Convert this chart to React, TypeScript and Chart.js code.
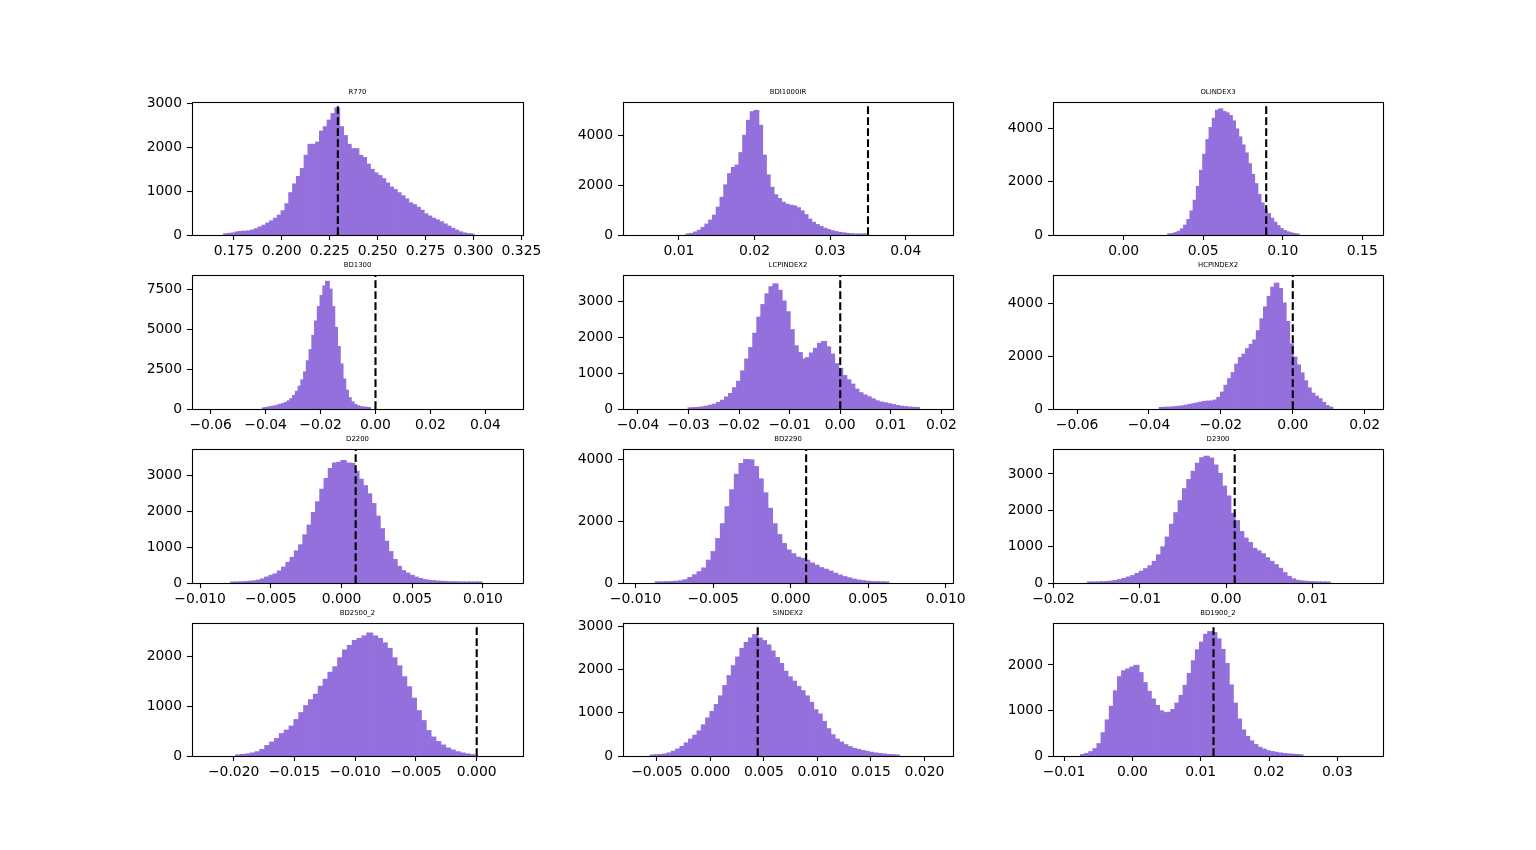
import React, { useEffect, useRef } from "react";
import { Chart, registerables } from "chart.js";

Chart.register(...registerables);
Chart.defaults.font.family = "'DejaVu Sans', sans-serif";
Chart.defaults.color = "#000";

const M = "\u2212";

// ---------------- R770 ----------------
const r770Title = "R770";
const r770BinStart = 0.17;
const r770BinWidth = 0.002;
const r770Counts = [
  15, 25, 35, 60, 70, 75, 80, 100, 130, 170, 210, 260, 310, 370, 440, 540, 700, 950, 1150, 1320,
  1500, 1800, 2050, 2050, 2100, 2350, 2450, 2600, 2750, 2880, 2450, 2250, 2050, 1950, 1950, 1800,
  1750, 1600, 1480, 1400, 1340, 1270, 1170, 1080, 1020, 950, 880, 810, 720, 680, 620, 550, 470,
  420, 370, 330, 290, 240, 190, 140, 100, 60, 35, 20, 10,
];
const r770XTicks = ["0.175", "0.200", "0.225", "0.250", "0.275", "0.300", "0.325"];
const r770YTicks = ["0", "1000", "2000", "3000"];
const r770XRange = [0.1533, 0.3258];
const r770YMax = 3025;
const r770Marker = 0.2293;

// ---------------- BDI1000IR ----------------
const bdi1000irTitle = "BDI1000IR";
const bdi1000irBinStart = 0.011;
const bdi1000irBinWidth = 0.0005;
const bdi1000irCounts = [
  15, 45, 100, 170, 280, 420, 580, 780, 1100, 1500, 2000, 2450, 2700, 2800, 3300, 4000, 4600,
  4950, 5000, 4400, 3200, 2400, 1900, 1600, 1450, 1300, 1220, 1180, 1150, 1080, 950, 800, 620,
  490, 400, 320, 250, 200, 150, 115, 85, 65, 45, 30, 20, 15, 10, 6,
];
const bdi1000irXTicks = ["0.01", "0.02", "0.03", "0.04"];
const bdi1000irYTicks = ["0", "2000", "4000"];
const bdi1000irXRange = [0.00261, 0.04624];
const bdi1000irYMax = 5360;
const bdi1000irMarker = 0.035;

// ---------------- OLINDEX3 ----------------
const olindex3Title = "OLINDEX3";
const olindex3BinStart = 0.028;
const olindex3BinWidth = 0.002;
const olindex3Counts = [
  25, 35, 70, 120, 210, 350, 560, 880, 1280, 1800, 2400, 3000, 3550, 4000, 4350, 4650, 4700,
  4600, 4550, 4450, 4250, 3950, 3650, 3350, 3050, 2650, 2250, 1900, 1500, 1180, 950, 780, 610,
  460, 330, 220, 150, 100, 65, 40, 20,
];
const olindex3XTicks = ["0.00", "0.05", "0.10", "0.15"];
const olindex3YTicks = ["0", "2000", "4000"];
const olindex3XRange = [-0.0444, 0.163];
const olindex3YMax = 4975;
const olindex3Marker = 0.0896;

// ---------------- BD1300 ----------------
const bd1300Title = "BD1300";
const bd1300BinStart = -0.041;
const bd1300BinWidth = 0.001;
const bd1300Counts = [
  40, 70, 100, 130, 160, 210, 260, 310, 380, 480, 620, 820, 1080, 1400, 1800, 2300, 3000, 3700,
  4600, 5500, 6400, 7100, 7700, 8000, 7500, 6400, 5100, 3900, 2800, 1850, 1150, 680, 420, 260,
  170, 120, 95, 75, 60,
];
const bd1300XTicks = [M + "0.06", M + "0.04", M + "0.02", "0.00", "0.02", "0.04"];
const bd1300YTicks = ["0", "2500", "5000", "7500"];
const bd1300XRange = [-0.0668, 0.0537];
const bd1300YMax = 8420;
const bd1300Marker = 0.0;

// ---------------- LCPINDEX2 ----------------
const lcpindex2Title = "LCPINDEX2";
const lcpindex2BinStart = -0.03;
const lcpindex2BinWidth = 0.0008;
const lcpindex2Counts = [
  20, 25, 30, 45, 65, 90, 120, 170, 230, 320, 420, 580, 760, 1050, 1380, 1700, 2100, 2550, 2900,
  3200, 3400, 3480, 3300, 3000, 2700, 2200, 1750, 1560, 1380, 1420, 1550, 1680, 1820, 1870, 1720,
  1520, 1250, 1120, 920, 800, 680, 540, 440, 380, 330, 270, 215, 180, 160, 135, 110, 85, 65, 50,
  40, 32, 28,
];
const lcpindex2XTicks = [M + "0.04", M + "0.03", M + "0.02", M + "0.01", "0.00", "0.01", "0.02"];
const lcpindex2YTicks = ["0", "1000", "2000", "3000"];
const lcpindex2XRange = [-0.04296, 0.0223];
const lcpindex2YMax = 3740;
const lcpindex2Marker = 0.0;

// ---------------- HCPINDEX2 ----------------
const hcpindex2Title = "HCPINDEX2";
const hcpindex2BinStart = -0.037;
const hcpindex2BinWidth = 0.001;
const hcpindex2Counts = [
  40, 45, 50, 55, 70, 85, 100, 125, 155, 180, 210, 240, 270, 280, 285, 320, 420, 620, 880, 1130,
  1360, 1680, 1930, 2060, 2270, 2430, 2600, 2950, 3400, 3850, 4250, 4600, 4750, 4550, 4000, 3300,
  2450, 1950, 1650, 1350, 1050, 780, 580, 470, 370, 230, 110, 50,
];
const hcpindex2XTicks = [M + "0.06", M + "0.04", M + "0.02", "0.00", "0.02"];
const hcpindex2YTicks = ["0", "2000", "4000"];
const hcpindex2XRange = [-0.0667, 0.0251];
const hcpindex2YMax = 5080;
const hcpindex2Marker = 0.0;

// ---------------- D2200 ----------------
const d2200Title = "D2200";
const d2200BinStart = -0.0078;
const d2200BinWidth = 0.0003;
const d2200Counts = [
  8, 12, 18, 25, 35, 45, 65, 100, 150, 200, 240, 320, 430, 560, 700, 880, 1050, 1330, 1600, 1950,
  2250, 2600, 2900, 3180, 3330, 3350, 3400, 3330, 3320, 3100, 2880, 2700, 2470, 2200, 1850, 1500,
  1150, 860, 640, 450, 330, 260, 200, 150, 110, 80, 62, 50, 40, 33, 27, 22, 19, 16, 14, 12, 10, 8, 6,
];
const d2200XTicks = [M + "0.010", M + "0.005", "0.000", "0.005", "0.010"];
const d2200YTicks = ["0", "1000", "2000", "3000"];
const d2200XRange = [-0.01057, 0.01283];
const d2200YMax = 3735;
const d2200Marker = 0.001;

// ---------------- BD2290 ----------------
const bd2290Title = "BD2290";
const bd2290BinStart = -0.0087;
const bd2290BinWidth = 0.0003;
const bd2290Counts = [
  20, 22, 25, 32, 40, 55, 90, 160, 250, 350, 470, 720, 1000, 1420, 1900, 2450, 3000, 3500, 3850,
  3980, 3970, 3750, 3350, 2900, 2400, 1900, 1550, 1260, 1050, 930, 820, 780, 720, 630, 560, 480,
  430, 370, 300, 240, 190, 150, 110, 80, 58, 42, 32, 26, 22, 18,
];
const bd2290XTicks = [M + "0.010", M + "0.005", "0.000", "0.005", "0.010"];
const bd2290YTicks = ["0", "2000", "4000"];
const bd2290XRange = [-0.01081, 0.01047];
const bd2290YMax = 4335;
const bd2290Marker = 0.001;

// ---------------- D2300 ----------------
const d2300Title = "D2300";
const d2300BinStart = -0.016;
const d2300BinWidth = 0.0005;
const d2300Counts = [
  10, 12, 16, 22, 28, 38, 55, 80, 110, 150, 190, 250, 310, 380, 460, 580, 760, 980, 1250, 1600,
  1920, 2250, 2580, 2830, 3060, 3280, 3430, 3470, 3420, 3230, 3000, 2650, 2380, 1900, 1700, 1400,
  1220, 1100, 940, 870, 790, 680, 580, 490, 390, 270, 170, 100, 60, 42, 32, 25, 20, 16, 12, 8,
];
const d2300XTicks = [M + "0.02", M + "0.01", "0.00", "0.01"];
const d2300YTicks = ["0", "1000", "2000", "3000"];
const d2300XRange = [-0.02005, 0.01818];
const d2300YMax = 3685;
const d2300Marker = 0.001;

// ---------------- BD2500_2 ----------------
const bd2500Title = "BD2500_2";
const bd2500BinStart = -0.0198;
const bd2500BinWidth = 0.0004;
const bd2500Counts = [
  12, 20, 32, 50, 75, 120, 200, 270, 340, 440, 510, 590, 720, 860, 1000, 1120, 1230, 1390, 1530,
  1670, 1780, 1960, 2120, 2210, 2310, 2350, 2400, 2460, 2400, 2350, 2260, 2150, 1960, 1800, 1580,
  1380, 1150, 900, 700, 500, 370, 280, 210, 150, 110, 75, 50, 32, 18,
];
const bd2500XTicks = [M + "0.020", M + "0.015", M + "0.010", M + "0.005", "0.000"];
const bd2500YTicks = ["0", "1000", "2000"];
const bd2500XRange = [-0.02343, 0.00381];
const bd2500YMax = 2670;
const bd2500Marker = 0.0;

// ---------------- SINDEX2 ----------------
const sindex2Title = "SINDEX2";
const sindex2BinStart = -0.0056;
const sindex2BinWidth = 0.0004;
const sindex2Counts = [
  10, 15, 22, 35, 60, 100, 150, 210, 290, 380, 470, 570, 710, 870, 1020, 1180, 1380, 1620, 1850,
  2080, 2280, 2480, 2620, 2720, 2800, 2720, 2660, 2560, 2420, 2270, 2130, 1950, 1820, 1720, 1600,
  1500, 1380, 1230, 1060, 960, 790, 620, 480, 380, 310, 250, 205, 165, 140, 115, 95, 75, 58, 45,
  35, 25, 18, 12,
];
const sindex2XTicks = [M + "0.005", "0.000", "0.005", "0.010", "0.015", "0.020"];
const sindex2YTicks = ["0", "1000", "2000", "3000"];
const sindex2XRange = [-0.00817, 0.02267];
const sindex2YMax = 3080;
const sindex2Marker = 0.00442;

// ---------------- BD1900_2 ----------------
const bd1900Title = "BD1900_2";
const bd1900BinStart = -0.0075;
const bd1900BinWidth = 0.0006;
const bd1900Counts = [
  20, 45, 85, 150, 260, 500, 780, 1080, 1420, 1730, 1860, 1900, 1940, 1980, 1820, 1600, 1410,
  1240, 1100, 980, 940, 950, 1010, 1150, 1320, 1540, 1800, 2080, 2320, 2490, 2660, 2720, 2700,
  2560, 2330, 2020, 1550, 1150, 800, 560, 420, 320, 240, 180, 140, 105, 85, 70, 55, 45, 35, 28,
  22, 15,
];
const bd1900XTicks = [M + "0.01", "0.00", "0.01", "0.02", "0.03"];
const bd1900YTicks = ["0", "1000", "2000"];
const bd1900XRange = [-0.01161, 0.03668];
const bd1900YMax = 2920;
const bd1900Marker = 0.01188;

type PanelDef = {
  title: string;
  binStart: number;
  binWidth: number;
  counts: number[];
  xTicks: string[];
  yTicks: string[];
  xRange: number[];
  yMax: number;
  marker: number;
};

const panels: PanelDef[] = [
  { title: r770Title, binStart: r770BinStart, binWidth: r770BinWidth, counts: r770Counts, xTicks: r770XTicks, yTicks: r770YTicks, xRange: r770XRange, yMax: r770YMax, marker: r770Marker },
  { title: bdi1000irTitle, binStart: bdi1000irBinStart, binWidth: bdi1000irBinWidth, counts: bdi1000irCounts, xTicks: bdi1000irXTicks, yTicks: bdi1000irYTicks, xRange: bdi1000irXRange, yMax: bdi1000irYMax, marker: bdi1000irMarker },
  { title: olindex3Title, binStart: olindex3BinStart, binWidth: olindex3BinWidth, counts: olindex3Counts, xTicks: olindex3XTicks, yTicks: olindex3YTicks, xRange: olindex3XRange, yMax: olindex3YMax, marker: olindex3Marker },
  { title: bd1300Title, binStart: bd1300BinStart, binWidth: bd1300BinWidth, counts: bd1300Counts, xTicks: bd1300XTicks, yTicks: bd1300YTicks, xRange: bd1300XRange, yMax: bd1300YMax, marker: bd1300Marker },
  { title: lcpindex2Title, binStart: lcpindex2BinStart, binWidth: lcpindex2BinWidth, counts: lcpindex2Counts, xTicks: lcpindex2XTicks, yTicks: lcpindex2YTicks, xRange: lcpindex2XRange, yMax: lcpindex2YMax, marker: lcpindex2Marker },
  { title: hcpindex2Title, binStart: hcpindex2BinStart, binWidth: hcpindex2BinWidth, counts: hcpindex2Counts, xTicks: hcpindex2XTicks, yTicks: hcpindex2YTicks, xRange: hcpindex2XRange, yMax: hcpindex2YMax, marker: hcpindex2Marker },
  { title: d2200Title, binStart: d2200BinStart, binWidth: d2200BinWidth, counts: d2200Counts, xTicks: d2200XTicks, yTicks: d2200YTicks, xRange: d2200XRange, yMax: d2200YMax, marker: d2200Marker },
  { title: bd2290Title, binStart: bd2290BinStart, binWidth: bd2290BinWidth, counts: bd2290Counts, xTicks: bd2290XTicks, yTicks: bd2290YTicks, xRange: bd2290XRange, yMax: bd2290YMax, marker: bd2290Marker },
  { title: d2300Title, binStart: d2300BinStart, binWidth: d2300BinWidth, counts: d2300Counts, xTicks: d2300XTicks, yTicks: d2300YTicks, xRange: d2300XRange, yMax: d2300YMax, marker: d2300Marker },
  { title: bd2500Title, binStart: bd2500BinStart, binWidth: bd2500BinWidth, counts: bd2500Counts, xTicks: bd2500XTicks, yTicks: bd2500YTicks, xRange: bd2500XRange, yMax: bd2500YMax, marker: bd2500Marker },
  { title: sindex2Title, binStart: sindex2BinStart, binWidth: sindex2BinWidth, counts: sindex2Counts, xTicks: sindex2XTicks, yTicks: sindex2YTicks, xRange: sindex2XRange, yMax: sindex2YMax, marker: sindex2Marker },
  { title: bd1900Title, binStart: bd1900BinStart, binWidth: bd1900BinWidth, counts: bd1900Counts, xTicks: bd1900XTicks, yTicks: bd1900YTicks, xRange: bd1900XRange, yMax: bd1900YMax, marker: bd1900Marker },
];

// layout (pixels on the page)
const COL_LEFT = [192, 623, 1053];
const COL_W = [331, 330, 330];
const ROW_TOP = [102, 275, 449, 623];
const ROW_H = [133, 134, 134, 133];
const PAD_L = 80;
const PAD_T = 20;
const PAD_R = 40;
const PAD_B = 35;

const BAR_COLOR = "#9370DB";
const TICK_FONT = 13.9;

const toNum = (s: string) => parseFloat(s.replace(M, "-"));

const framePlugin = {
  id: "frameAndTitle",
  afterDraw(chart: any, _args: any, opts: any) {
    const { ctx, chartArea: a } = chart;
    ctx.save();
    ctx.strokeStyle = "#000";
    ctx.lineWidth = 1.1;
    ctx.strokeRect(a.left + 0.5, a.top + 0.5, a.right - a.left, a.bottom - a.top);
    ctx.fillStyle = "#000";
    ctx.font = "6.9px 'DejaVu Sans', sans-serif";
    ctx.textAlign = "center";
    ctx.textBaseline = "alphabetic";
    ctx.fillText(opts.text, (a.left + a.right) / 2, a.top - 8.3);
    ctx.restore();
  },
};

function HistPanel({ p, left, top, w, h }: { p: PanelDef; left: number; top: number; w: number; h: number }) {
  const ref = useRef<HTMLCanvasElement>(null);
  const cw = w + PAD_L + PAD_R;
  const ch = h + PAD_T + PAD_B;

  useEffect(() => {
    if (!ref.current) return;
    const bars = p.counts.map((c, i) => ({ x: p.binStart + (i + 0.5) * p.binWidth, y: c }));
    const xVals = p.xTicks.map(toNum);
    const yVals = p.yTicks.map(toNum);
    const chart = new Chart(ref.current, {
      type: "bar",
      data: {
        datasets: [
          {
            type: "line",
            data: [
              { x: p.marker, y: 0 },
              { x: p.marker, y: p.yMax },
            ],
            borderColor: "#000",
            borderWidth: 2.1,
            borderDash: [7.7, 3.3],
            pointRadius: 0,
            fill: false,
            order: 0,
          } as any,
          {
            type: "bar",
            data: bars,
            backgroundColor: BAR_COLOR,
            borderWidth: 0,
            inflateAmount: 1,
            barPercentage: 1,
            categoryPercentage: 1,
            order: 1,
          } as any,
        ],
      },
      plugins: [framePlugin],
      options: {
        animation: false,
        responsive: false,
        maintainAspectRatio: false,
        layout: { padding: { left: 0, top: PAD_T, right: PAD_R, bottom: 0 } },
        plugins: {
          legend: { display: false },
          tooltip: { enabled: false },
          title: { display: false },
          frameAndTitle: { text: p.title },
        } as any,
        scales: {
          x: {
            type: "linear",
            min: p.xRange[0],
            max: p.xRange[1],
            offset: false,
            bounds: "data",
            grid: { display: true, offset: false, drawOnChartArea: false, drawTicks: true, tickLength: 5, tickWidth: 1.1, tickColor: "#000" },
            border: { display: false },
            ticks: {
              autoSkip: false,
              maxRotation: 0,
              minRotation: 0,
              padding: 3,
              font: { size: TICK_FONT },
              color: "#000",
              callback: (_v: any, i: number) => p.xTicks[i],
            },
            afterBuildTicks: (s: any) => {
              s.ticks = xVals.map((v) => ({ value: v }));
            },
            afterFit: (s: any) => {
              s.height = PAD_B;
            },
          },
          y: {
            type: "linear",
            min: 0,
            max: p.yMax,
            bounds: "data",
            grid: { display: true, drawOnChartArea: false, drawTicks: true, tickLength: 5, tickWidth: 1.1, tickColor: "#000" },
            border: { display: false },
            ticks: {
              autoSkip: false,
              padding: 5,
              font: { size: TICK_FONT },
              color: "#000",
              callback: (_v: any, i: number) => p.yTicks[i],
            },
            afterBuildTicks: (s: any) => {
              s.ticks = yVals.map((v) => ({ value: v }));
            },
            afterFit: (s: any) => {
              s.width = PAD_L;
            },
          },
        },
      } as any,
    });
    return () => chart.destroy();
  }, [p]);

  return (
    <canvas
      ref={ref}
      width={cw}
      height={ch}
      style={{ position: "absolute", left: left - PAD_L, top: top - PAD_T, width: cw, height: ch }}
    />
  );
}

export default function App() {
  return (
    <div style={{ position: "absolute", left: 0, top: 0, width: 1536, height: 850, background: "#fff", overflow: "hidden" }}>
      {panels.map((p, i) => {
        const r = Math.floor(i / 3);
        const c = i % 3;
        return <HistPanel key={p.title} p={p} left={COL_LEFT[c]} top={ROW_TOP[r]} w={COL_W[c]} h={ROW_H[r]} />;
      })}
    </div>
  );
}
